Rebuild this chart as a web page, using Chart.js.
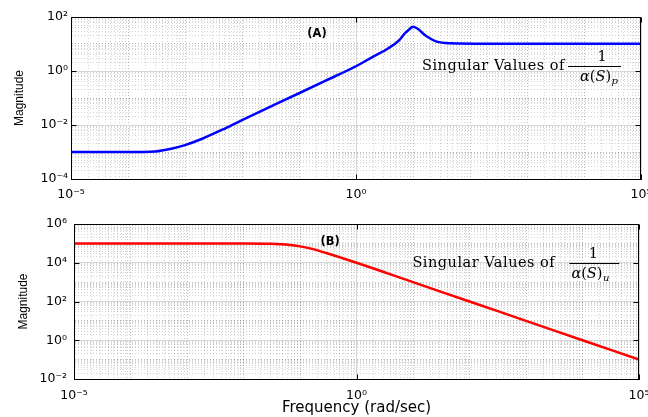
<!DOCTYPE html>
<html>
<head>
<meta charset="utf-8">
<script src="https://cdn.jsdelivr.net/npm/chart.js@4/dist/chart.umd.min.js"></script>
<style>
  body { margin: 0; background: #fff; }
  #boxA { position: absolute; left: 0; top: 0; width: 648px; height: 205px; }
  #boxB { position: absolute; left: 0; top: 205px; width: 648px; height: 212px; }
</style>
</head>
<body>
<div id="boxA"><canvas id="chartA" width="648" height="205"></canvas></div>
<div id="boxB"><canvas id="chartB" width="648" height="212"></canvas></div>
<script>
// values
var freqA = [1e-5, 1e-4, 3e-4, 6e-4, 1e-3, 2e-3, 5e-3, 1e-2, 1e-1, 0.3, 1, 2, 3.2, 4.5, 5.8, 7.2, 8.5, 10, 12.3, 14.8, 17.8, 26, 45, 200, 1e5];
var magA  = [1.0e-3, 1.0e-3, 1.05e-3, 1.35e-3, 1.8e-3, 3.1e-3, 7.4e-3, 1.5e-2, 0.15, 0.45, 1.5, 3.4, 5.75, 9.1, 14.1, 25, 34, 44, 36, 25, 18.6, 12.3, 10.7, 10.3, 10.3];

var freqB = [1e-5, 1e-2, 3e-2, 6.6e-2, 0.1, 0.15, 0.3, 1, 10, 100, 1e3, 1e4, 1e5];
var magB  = [1e5, 1e5, 0.96e5, 0.83e5, 0.70e5, 0.55e5, 3.1e4, 1.0e4, 1.0e3, 100, 10, 1, 0.1];

var freqTickValues = [1e-5, 1, 1e5];
var freqTickLabels = ['10⁻⁵', '10⁰', '10⁵'];
var magTickValuesA = [1e-4, 1e-2, 1, 1e2];
var magTickLabelsA = ['10⁻⁴', '10⁻²', '10⁰', '10²'];
var magTickValuesB = [1e-2, 1, 1e2, 1e4, 1e6];
var magTickLabelsB = ['10⁻²', '10⁰', '10²', '10⁴', '10⁶'];

Chart.defaults.color = '#000';
Chart.defaults.font.family = '"DejaVu Sans", sans-serif';

function sameValue(a, b) { return Math.abs(Math.log10(a / b)) < 1e-6; }

function labelFor(values, labels, v) {
  for (var i = 0; i < values.length; i++) {
    if (sameValue(values[i], v)) return labels[i];
  }
  return null;
}

// 1..9 x 10^k between min and max, for the dotted log grid
function logGridTicks(min, max) {
  var t = [];
  var lo = Math.round(Math.log10(min)), hi = Math.round(Math.log10(max));
  for (var e = lo; e < hi; e++) {
    for (var m = 1; m < 10; m++) t.push({ value: m * Math.pow(10, e) });
  }
  t.push({ value: Math.pow(10, hi) });
  return t;
}

function isDecade(v) {
  var e = Math.log10(v);
  return Math.abs(e - Math.round(e)) < 1e-6;
}

function logAxis(cfg) {
  return {
    type: 'logarithmic',
    position: cfg.position,
    min: cfg.min,
    max: cfg.max,
    afterBuildTicks: function (s) { s.ticks = logGridTicks(cfg.min, cfg.max); },
    afterFit: function (s) {
      if (cfg.width) s.width = cfg.width;
      if (cfg.height) s.height = cfg.height;
      s.paddingLeft = 0; s.paddingRight = 0; s.paddingTop = 0; s.paddingBottom = 0;
    },
    ticks: {
      autoSkip: false,
      maxRotation: 0,
      minRotation: 0,
      padding: cfg.padding,
      font: { size: 12.5 },
      callback: function (v) {
        var l = labelFor(cfg.values, cfg.labels, v);
        return l === null ? '' : l;
      }
    },
    grid: {
      drawTicks: false,
      lineWidth: 1,
      color: function (c) {
        if (!c.tick) return '#000';
        var v = c.tick.value;
        if (labelFor(cfg.values, cfg.labels, v) !== null) return '#d6d6d6';
        return isDecade(v) ? 'rgba(0,0,0,0.28)' : 'rgba(0,0,0,0.17)';
      }
    },
    border: {
      color: '#000',
      width: 1,
      dash: function (c) {
        if (!c.tick) return [];
        return labelFor(cfg.values, cfg.labels, c.tick.value) !== null ? [] : [1, 2];
      }
    },
    title: cfg.title
  };
}

// closed box with inward tick marks at the labelled values
var framePlugin = {
  id: 'frame',
  afterDraw: function (chart) {
    var a = chart.chartArea, c = chart.ctx;
    var xs = chart.scales.x, ys = chart.scales.y;
    var o = chart.options.plugins.frame;
    var l = Math.round(a.left) + 0.5, r = Math.round(a.right) - 0.5;
    var t = Math.round(a.top) + 0.5, b = Math.round(a.bottom) + 0.5;
    c.save();
    c.strokeStyle = '#000';
    c.lineWidth = 1;
    c.strokeRect(l, t, r - l, b - t);
    c.beginPath();
    o.xValues.forEach(function (v) {
      var px = Math.round(xs.getPixelForValue(v)) + 0.5;
      c.moveTo(px, b); c.lineTo(px, b - 5);
      c.moveTo(px, t); c.lineTo(px, t + 5);
    });
    o.yValues.forEach(function (v) {
      var py = Math.round(ys.getPixelForValue(v)) + 0.5;
      c.moveTo(l, py); c.lineTo(l + 5, py);
      c.moveTo(r, py); c.lineTo(r - 5, py);
    });
    c.stroke();
    c.restore();
  }
};

// panel tag and "Singular Values of 1/alpha(S)" note
var notePlugin = {
  id: 'note',
  afterDraw: function (chart) {
    var o = chart.options.plugins.note;
    var c = chart.ctx, xs = chart.scales.x, ys = chart.scales.y;
    c.save();
    c.fillStyle = '#000';
    c.font = 'bold 11.5px "DejaVu Sans"';
    c.textAlign = 'center';
    c.textBaseline = 'middle';
    c.fillText(o.tag, xs.getPixelForValue(o.tagAt[0]), ys.getPixelForValue(o.tagAt[1]));

    var L = xs.getPixelForValue(o.textAt[0]), B = ys.getPixelForValue(o.textAt[1]);
    c.textAlign = 'left';
    c.textBaseline = 'alphabetic';
    c.font = '14.5px "DejaVu Serif"';
    if ('letterSpacing' in c) c.letterSpacing = '0.5px';
    c.fillText('Singular Values of', L, B);
    if ('letterSpacing' in c) c.letterSpacing = '0px';

    c.strokeStyle = '#000';
    c.lineWidth = 1;
    c.beginPath();
    c.moveTo(L + o.bar[0], Math.round(B + o.barDy) + 0.5);
    c.lineTo(L + o.bar[1], Math.round(B + o.barDy) + 0.5);
    c.stroke();

    c.textAlign = 'center';
    c.fillText('1', L + o.numDx, B + o.numDy);

    c.textAlign = 'left';
    var x = L + o.denDx, y = B + o.denDy;
    [['α', 'italic '], ['(', ''], ['S', 'italic '], [')', '']].forEach(function (p) {
      c.font = p[1] + '14.5px "DejaVu Serif"';
      c.fillText(p[0], x, y);
      x += c.measureText(p[0]).width;
    });
    c.font = 'italic 10px "DejaVu Serif"';
    c.fillText(o.sub, x + 0.5, y + 3);
    c.restore();
  }
};

function points(xs, ys) {
  return xs.map(function (f, i) { return { x: f, y: ys[i] }; });
}

new Chart(document.getElementById('chartA'), {
  type: 'line',
  data: {
    datasets: [{
      data: points(freqA, magA),
      borderColor: '#0000ff',
      borderWidth: 2.5,
      pointRadius: 0,
      fill: false,
      cubicInterpolationMode: 'monotone'
    }]
  },
  options: {
    responsive: false,
    animation: false,
    layout: { padding: { top: 17, right: 7, left: 0, bottom: 0 } },
    scales: {
      x: logAxis({ position: 'bottom', min: 1e-5, max: 1e5, height: 26, padding: 8,
                   values: freqTickValues, labels: freqTickLabels, title: { display: false } }),
      y: logAxis({ position: 'left', min: 1e-4, max: 1e2, width: 71, padding: 3,
                   values: magTickValuesA, labels: magTickLabelsA,
                   title: { display: true, text: 'Magnitude', font: { family: '"Liberation Sans"', size: 12 },
                            padding: { top: 12, bottom: 0 } } })
    },
    plugins: {
      legend: { display: false },
      tooltip: { enabled: false },
      frame: { xValues: freqTickValues, yValues: magTickValuesA },
      note: { tag: '(A)', tagAt: [0.207, 23.5], textAt: [14.4, 1.09], sub: 'p',
              bar: [146, 199], barDy: -3.5, numDx: 180, numDy: -8.5, denDx: 158, denDy: 11 }
    }
  },
  plugins: [framePlugin, notePlugin]
});

new Chart(document.getElementById('chartB'), {
  type: 'line',
  data: {
    datasets: [{
      data: points(freqB, magB),
      borderColor: '#ff0000',
      borderWidth: 2.5,
      pointRadius: 0,
      fill: false,
      cubicInterpolationMode: 'monotone'
    }]
  },
  options: {
    responsive: false,
    animation: false,
    layout: { padding: { top: 19, right: 9, left: 0, bottom: 0 } },
    scales: {
      x: logAxis({ position: 'bottom', min: 1e-5, max: 1e5, height: 38, padding: 9,
                   values: freqTickValues, labels: freqTickLabels,
                   title: { display: true, text: 'Frequency (rad/sec)', font: { size: 15 },
                            padding: { top: 0, bottom: 0 } } }),
      y: logAxis({ position: 'left', min: 1e-2, max: 1e6, width: 74, padding: 7,
                   values: magTickValuesB, labels: magTickLabelsB,
                   title: { display: true, text: 'Magnitude', font: { family: '"Liberation Sans"', size: 12 },
                            padding: { top: 16, bottom: 0 } } })
    },
    plugins: {
      legend: { display: false },
      tooltip: { enabled: false },
      frame: { xValues: freqTickValues, yValues: magTickValuesB },
      note: { tag: '(B)', tagAt: [0.34, 1.17e5], textAt: [9.75, 6250], sub: 'u',
              bar: [157, 207], barDy: -4, numDx: 181, numDy: -8.5, denDx: 159, denDy: 11.5 }
    }
  },
  plugins: [framePlugin, notePlugin]
});
</script>
</body>
</html>
